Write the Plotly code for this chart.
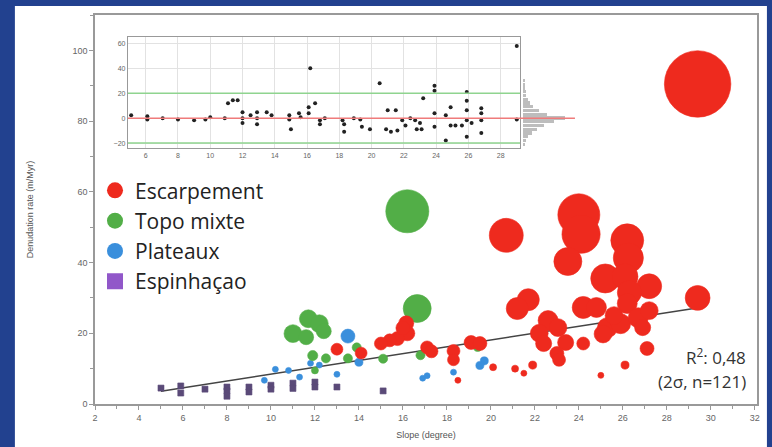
import plotly.graph_objects as go

# ---------------- data ----------------
esc_x = [29.4, 20.7, 24.0, 24.1, 23.5, 26.2, 26.25, 25.2, 26.1, 27.2, 26.3, 29.4, 21.7, 21.2, 24.2, 24.8,
         22.6, 23.05, 22.2, 22.4, 23.4, 23.0, 23.1, 24.2, 25.3, 25.1, 25.9, 26.2, 26.7, 27.2, 26.9, 25.6,
         27.1, 26.1, 25.0, 21.9, 21.5, 21.1, 20.1, 18.3, 18.3, 18.5, 19.1, 19.5, 17.1, 17.3, 16.15, 16.2,
         15.75, 15.4, 15.0, 13.0, 14.1, 16.0]
esc_y = [90.5, 47.7, 53.5, 48.0, 40.3, 46.3, 41.3, 35.5, 36.0, 33.3, 31.5, 30.0, 29.5, 27.0, 27.3, 27.3,
         23.6, 21.6, 20.0, 17.1, 17.4, 14.3, 12.5, 17.1, 21.6, 19.8, 22.7, 28.4, 24.4, 26.4, 21.6, 25.0,
         15.7, 11.0, 8.1, 11.0, 8.7, 10.0, 10.4, 15.0, 12.5, 6.7, 17.4, 17.1, 16.0, 14.9, 22.8, 20.0,
         18.5, 18.0, 17.1, 15.5, 14.4, 21.5]
esc_err = [19, 9.7, 12, 10.9, 8, 9.4, 8.6, 8.3, 7.4, 7.1, 6.9, 7.1, 6.3, 6.3, 6.3, 5.7,
           5.7, 5.1, 5.1, 4.6, 4.6, 4, 3.7, 3.7, 5.7, 5.1, 5.7, 5.7, 5.7, 5.1, 4.6, 5.1,
           4, 2.3, 1.4, 2.3, 1.7, 2, 2, 3.7, 3.4, 1.4, 4, 4, 3.7, 3.7, 4.3, 4.3,
           4, 3.7, 3.7, 3.4, 3.4, 4]

topo_x = [16.2, 16.65, 11.0, 11.7, 12.2, 11.6, 12.4, 11.9, 12.5, 13.9, 13.5, 16.8, 15.1, 12.0, 19.4]
topo_y = [54.5, 27.0, 19.9, 24.1, 22.7, 18.9, 20.6, 13.7, 12.9, 16.0, 12.9, 13.8, 12.8, 9.5, 16.0]
topo_err = [12.3, 8, 5.1, 5.1, 5.1, 4.3, 4.3, 2.9, 2.6, 2.6, 2.6, 2.6, 2.6, 2, 2.3]

plat_x = [13.5, 14.0, 19.7, 19.5, 16.9, 17.1, 18.3, 10.2, 10.8, 11.3, 11.8, 9.7, 13.0, 12.2]
plat_y = [19.2, 11.8, 12.2, 10.9, 7.3, 8.0, 9.0, 9.8, 9.5, 7.6, 11.5, 6.7, 8.4, 11.0]
plat_err = [4, 2.3, 2.3, 2.3, 1.4, 1.4, 1.4, 1.4, 1.4, 1.4, 1.7, 1.4, 1.4, 1.7]

espi_x = [5.0, 5.9, 5.9, 7.0, 8.0, 8.0, 8.0, 9.0, 9.0, 10.0, 10.0, 11.0, 11.0, 12.0, 12.0, 13.0, 15.1]
espi_y = [4.5, 3.1, 5.1, 4.2, 4.8, 3.7, 2.2, 4.8, 3.4, 5.3, 4.2, 5.9, 4.4, 6.2, 4.8, 4.8, 3.7]
espi_err = [1.1] * len(espi_x)

trend_x = [5.0, 29.3]
trend_y = [3.6, 27.1]

res_x = [5.1, 6.1, 6.1, 7.05, 8, 9, 9.7, 10, 10.9, 11.1, 11.4, 11.7, 12, 12, 12, 12.5, 12.9, 12.9, 12.9,
         13.5, 13.8, 14.9, 14.9, 15, 15.5, 15.6, 16.1, 16.1, 16.5, 16.2, 16.8, 16.8, 17.1, 18.2, 18.3,
         18.3, 18.9, 19.3, 19.4, 19.9, 20.5, 20.9, 21, 21.2, 21.5, 21.6, 21.9, 22.1, 22.4, 22.7, 22.8,
         23, 23.1, 23.2, 23.9, 23.9, 23.9, 23.9, 24.6, 24.6, 24.9, 24.9, 25.2, 25.9, 25.9, 25.9, 25.9,
         25.9, 25.6, 26.2, 26.8, 26.8, 26.8, 26.8, 29, 29]
res_y = [2.4, 1.6, -1, 0, -1, -1.6, -1, 0.8, 0, 12, 14.4, 14.4, 4.8, 0, -4, 2.4, 4.8, 0, -5,
         4.8, 2.4, 2.4, -1, -9, 4, 0.8, 8.8, 4, 12, 40, -1.6, -5, 0, -1.6, -5,
         -11, 0, -1, -7, -9, 28, -9, 6.4, -11, 6.4, -10, -1.6, -6, 0, -1.6, -9,
         -4, -9, 16, 26, 22, 4, -7, 2.4, -18, 8.8, -6, -6, 21, 14, 6.4, -1.6,
         -15, -6, -4, 8, 4, -1.6, -12, 58, -1]

hist_bins = [-21, -18, -15, -12, -9, -6, -3, 0, 3, 6, 9, 12, 15, 18, 21, 24, 27, 30]
hist_counts = [1, 2, 3, 5, 8, 12, 18, 24, 14, 9, 6, 4, 3, 2, 2, 1, 1, 1]

sigma_band = [-20, 20]

x_ticks = list(range(2, 33, 2))
y_ticks = list(range(0, 101, 20))
inset_x_ticks = list(range(6, 29, 2))
inset_y_ticks = list(range(-20, 61, 20))

# ---------------- styles ----------------
RED = "#ee2a1e"
GREEN = "#52ae47"
BLUE = "#3a8fdc"
PURPLE = "#9157c9"
BUBBLE_REF = 1 / 3.5
TICKFONT = dict(family="Liberation Sans, Arial", size=9, color="#666")

fig = go.Figure()


def bubbles(x, y, s, color, symbol="circle"):
    return go.Scatter(x=x, y=y, mode="markers", showlegend=False, hoverinfo="skip",
                      marker=dict(size=s, sizemode="diameter", sizeref=BUBBLE_REF, sizemin=3,
                                  opacity=1, color=color, symbol=symbol,
                                  line=dict(width=0.6, color=color)),
                      xaxis="x", yaxis="y")


fig.add_trace(go.Scatter(x=trend_x, y=trend_y, mode="lines", showlegend=False,
                         line=dict(color="#444", width=1.5), xaxis="x", yaxis="y"))
fig.add_trace(bubbles(espi_x, espi_y, espi_err, "#5a4a78", "square"))
fig.add_trace(bubbles(plat_x, plat_y, plat_err, BLUE))
fig.add_trace(bubbles(topo_x, topo_y, topo_err, GREEN))
fig.add_trace(bubbles(esc_x, esc_y, esc_err, RED))

# legend entries
for name, color, sym in [("Escarpement", RED, "circle"), ("Topo mixte", GREEN, "circle"),
                         ("Plateaux", BLUE, "circle"), ("Espinhaçao", PURPLE, "square")]:
    fig.add_trace(go.Scatter(x=[None], y=[None], mode="markers", name=name,
                             marker=dict(size=18, color=color, symbol=sym), xaxis="x", yaxis="y"))

# inset residuals
fig.add_trace(go.Scatter(x=res_x, y=res_y, mode="markers", showlegend=False,
                         marker=dict(size=4, color="#222"), xaxis="x2", yaxis="y2"))
# histogram of residuals
fig.add_trace(go.Bar(x=hist_counts, y=hist_bins, orientation="h", showlegend=False,
                     marker=dict(color="#bdbdbd", line=dict(width=0)), width=2.6,
                     xaxis="x3", yaxis="y3"))

shapes = [
    dict(type="rect", xref="paper", yref="paper", x0=-0.121, x1=1.015, y0=-0.2, y1=1.023,
         fillcolor="white", line=dict(width=0), layer="below"),
    dict(type="line", xref="x2 domain", yref="y2", x0=0, x1=1, y0=sigma_band[0], y1=sigma_band[0],
         line=dict(color="#8fd48f", width=1.5)),
    dict(type="line", xref="x2 domain", yref="y2", x0=0, x1=1, y0=sigma_band[1], y1=sigma_band[1],
         line=dict(color="#8fd48f", width=1.5)),
    dict(type="line", xref="paper", yref="y2", x0=0.0498, x1=0.725, y0=0, y1=0,
         line=dict(color="#ef7b7b", width=1.5)),
]

annotations = [
    dict(text="R<sup>2</sup>: 0,48", xref="paper", yref="paper", x=0.986, y=0.122, xanchor="right",
         yanchor="middle", showarrow=False, font=dict(family="Open Sans", size=17, color="#333")),
    dict(text="(2σ, n=121)", xref="paper", yref="paper", x=0.987, y=0.057, xanchor="right",
         yanchor="middle", showarrow=False, font=dict(family="Open Sans", size=17, color="#333")),
]

fig.update_layout(
    width=772, height=447,
    margin=dict(l=95, r=15, t=15, b=43),
    paper_bgcolor="#22418f",
    plot_bgcolor="white",
    shapes=shapes,
    annotations=annotations,
    bargap=0,
    legend=dict(x=0.0, y=0.601, xanchor="left", yanchor="top", bgcolor="rgba(0,0,0,0)",
                font=dict(family="Open Sans", size=21, color="#222"), itemsizing="trace",
                tracegroupgap=0, itemwidth=30),
    xaxis=dict(range=[2, 32.1], tickvals=x_ticks, showgrid=False, zeroline=False, automargin=False,
               showline=True, linecolor="#999", linewidth=1.5, mirror=True,
               ticks="outside", ticklen=4, tickcolor="#999", tickfont=TICKFONT,
               minor=dict(dtick=1, ticks="outside", ticklen=3, tickcolor="#999"),
               title=dict(text="Slope (degree)", font=dict(family="Liberation Sans", size=9, color="#555"),
                          standoff=10),
               domain=[0, 1]),
    yaxis=dict(range=[0, 110], tickvals=y_ticks, showgrid=False, zeroline=False, automargin=False,
               showline=True, linecolor="#999", linewidth=1.5, mirror=True,
               ticks="outside", ticklen=4, tickcolor="#999", tickfont=TICKFONT,
               minor=dict(dtick=10, ticks="outside", ticklen=3, tickcolor="#999"),
               title=dict(text="Denudation rate (m/Myr)",
                          font=dict(family="Liberation Sans", size=9, color="#555"), standoff=37)),
    xaxis2=dict(domain=[0.0498, 0.642], anchor="y2", range=[4.9, 29.2], tickvals=inset_x_ticks,
                showgrid=True, gridcolor="#e2e2e2", zeroline=False, showline=True, mirror=True,
                linecolor="#999", linewidth=1.2, ticks="", automargin=False,
                tickfont=dict(family="Liberation Sans", size=7, color="#666")),
    yaxis2=dict(domain=[0.658, 0.943], anchor="x2", range=[-24, 65], tickvals=inset_y_ticks,
                showgrid=True, gridcolor="#e2e2e2", zeroline=False, showline=True, mirror=True,
                linecolor="#999", linewidth=1.2, ticks="", automargin=False,
                tickfont=dict(family="Liberation Sans", size=7, color="#666")),
    xaxis3=dict(domain=[0.646, 0.725], anchor="y3", range=[0, 30], visible=False),
    yaxis3=dict(domain=[0.658, 0.943], anchor="x3", range=[-24, 65], visible=False),
)

fig.write_html("out.html", config={"displayModeBar": False},
               post_script="document.body.style.margin='0';document.body.style.background='#22418f';")
